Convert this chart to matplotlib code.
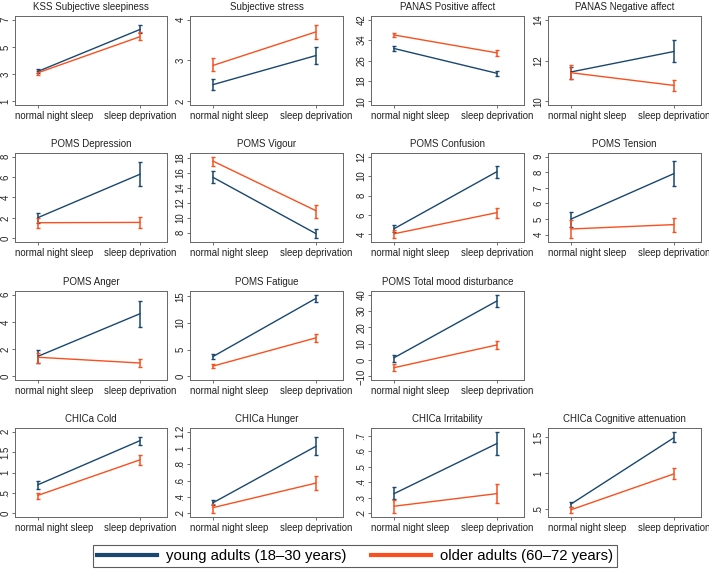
import numpy as np
import matplotlib
matplotlib.use("Agg")
import matplotlib.pyplot as plt
from matplotlib.lines import Line2D

plt.rcParams['font.family'] = ['Liberation Sans', 'DejaVu Sans']

conditions = ["normal night sleep", "sleep deprivation"]

titles = ["KSS Subjective sleepiness", "Subjective stress", "PANAS Positive affect",
          "PANAS Negative affect", "POMS Depression", "POMS Vigour", "POMS Confusion",
          "POMS Tension", "POMS Anger", "POMS Fatigue", "POMS Total mood disturbance",
          "CHICa Cold", "CHICa Hunger", "CHICa Irritability", "CHICa Cognitive attenuation"]

yticks = [[1, 3, 5, 7], [2, 3, 4], [10, 18, 26, 34, 42], [10, 12, 14],
          [0, 2, 4, 6, 8], [8, 10, 12, 14, 16, 18], [4, 6, 8, 10, 12], [4, 5, 6, 7, 8, 9],
          [0, 2, 4, 6], [0, 5, 10, 15], [-10, 0, 10, 20, 30, 40],
          [0, 0.5, 1, 1.5, 2], [0.2, 0.4, 0.6, 0.8, 1.0, 1.2],
          [0.2, 0.3, 0.4, 0.5, 0.6, 0.7], [0.5, 1, 1.5]]

# means (normal, deprived) and CI bounds
young_mean = [[3.2, 6.28], [2.41, 3.12], [30.7, 21.0], [11.44, 12.44],
              [2.03, 6.28], [15.4, 7.9], [4.59, 10.45], [5.0, 7.91],
              [1.47, 4.6], [3.72, 14.6], [1.4, 36.1],
              [0.70, 1.78], [0.33, 1.02], [0.327, 0.65], [0.576, 1.495]]
young_lo = [[3.05, 6.0], [2.27, 2.92], [29.8, 20.1], [11.1, 11.92],
            [1.5, 5.16], [14.65, 7.26], [4.23, 9.83], [4.5, 7.13],
            [0.98, 3.66], [3.3, 13.9], [-1.0, 32.7],
            [0.60, 1.67], [0.30, 0.92], [0.29, 0.575], [0.535, 1.43]]
young_hi = [[3.35, 6.6], [2.55, 3.33], [31.6, 21.9], [11.68, 13.0],
            [2.5, 7.5], [16.26, 8.5], [5.02, 11.08], [5.48, 8.73],
            [1.96, 5.53], [4.14, 15.3], [3.3, 39.6],
            [0.79, 1.88], [0.36, 1.13], [0.37, 0.727], [0.61, 1.58]]
older_mean = [[3.1, 5.75], [2.88, 3.70], [36.0, 29.0], [11.4, 10.78],
              [1.53, 1.56], [17.57, 10.96], [4.07, 6.24], [4.36, 4.64],
              [1.40, 0.98], [1.92, 7.2], [-4.7, 9.2],
              [0.44, 1.31], [0.27, 0.57], [0.246, 0.327], [0.496, 0.993]]
older_lo = [[2.95, 5.5], [2.74, 3.52], [35.1, 27.8], [11.07, 10.52],
            [1.06, 1.0], [16.96, 10.0], [3.6, 5.74], [3.76, 4.15],
            [1.0, 0.68], [1.5, 6.42], [-6.7, 6.9],
            [0.36, 1.19], [0.21, 0.49], [0.204, 0.267], [0.446, 0.917]]
older_hi = [[3.25, 6.1], [3.05, 3.88], [36.9, 30.2], [11.8, 11.03],
            [2.03, 2.1], [18.17, 11.7], [4.49, 6.73], [4.93, 5.07],
            [1.75, 1.28], [2.4, 7.98], [-2.5, 11.6],
            [0.50, 1.44], [0.32, 0.66], [0.285, 0.39], [0.54, 1.07]]

group_labels = ["young adults (18\u201330 years)", "older adults (60\u201372 years)"]
c_young = "#1a476f"
c_old = "#fa4f1e"


def stata_fmt(v):
    s = "{:g}".format(v)
    if s.startswith("0.") and len(s) > 2:
        s = s[1:]
    if s.startswith("-"):
        s = "\u2212" + s[1:]
    return s


fig = plt.figure(figsize=(7.09, 5.70), dpi=100)
W, H = 709.0, 570.0
col_left = [15, 190, 371, 548]
col_w = [152, 153, 153, 153]
row_top = [16, 153, 291, 428]
row_h = 89
tick_len, tick_pad = 2.5, 1.5

# grid slots, 3rd row 4th column stays empty
slots = [(r, c) for r in range(4) for c in range(4) if not (r == 2 and c == 3)]

x = np.array([1, 2])
for i, (r, c) in enumerate(slots):
    ax = fig.add_axes([col_left[c] / W, 1 - (row_top[r] + row_h) / H,
                       col_w[c] / W, row_h / H])
    series = [(young_mean[i], young_lo[i], young_hi[i], c_young),
              (older_mean[i], older_lo[i], older_hi[i], c_old)]
    for m, lo, hi, col in series:
        m = np.array(m)
        err = [m - np.array(lo), np.array(hi) - m]
        ax.errorbar(x, m, yerr=err, color=col, lw=1.0, elinewidth=1.1,
                    capsize=1.6, capthick=1.0)
    t = yticks[i]
    lo_all = min(t[0], min(young_lo[i]), min(older_lo[i]))
    hi_all = max(t[-1], max(young_hi[i]), max(older_hi[i]))
    span = hi_all - lo_all
    ax.set_ylim(lo_all - 0.045 * span, hi_all + 0.045 * span)
    ax.set_yticks(t)
    ax.set_yticklabels([stata_fmt(v) for v in t], rotation=90, va='center')
    ax.set_xlim(0.775, 2.265)
    ax.set_xticks(x)
    # first category label sits flush with the left edge of the plot box
    ax.set_xticklabels(["", conditions[1]])
    ax.annotate(conditions[0], xy=(0, 0), xycoords='axes fraction',
                xytext=(0, -(tick_len + tick_pad)), textcoords='offset points',
                ha='left', va='top', fontsize=6.9, color='#222222')
    ax.tick_params(axis='both', labelsize=6.9, length=tick_len, width=0.6,
                   color='#555555', labelcolor='#222222', pad=tick_pad)
    ax.tick_params(axis='y', pad=0.8)
    for s in ax.spines.values():
        s.set_color('#666666')
        s.set_linewidth(0.7)
    ax.set_title(titles[i], fontsize=7, color='#222222', pad=4)

handles = [Line2D([0], [0], color=c_young, lw=3),
           Line2D([0], [0], color=c_old, lw=3)]
leg = fig.legend(handles, group_labels, loc='center', ncol=2,
                 bbox_to_anchor=(355 / W, 1 - 556 / H), fontsize=10.7,
                 handlelength=4.0, handletextpad=0.6, columnspacing=1.7,
                 borderpad=0.3, fancybox=False, frameon=True)
leg.get_frame().set_edgecolor('#333333')
leg.get_frame().set_linewidth(0.8)

fig.savefig("out.png", dpi=100)
